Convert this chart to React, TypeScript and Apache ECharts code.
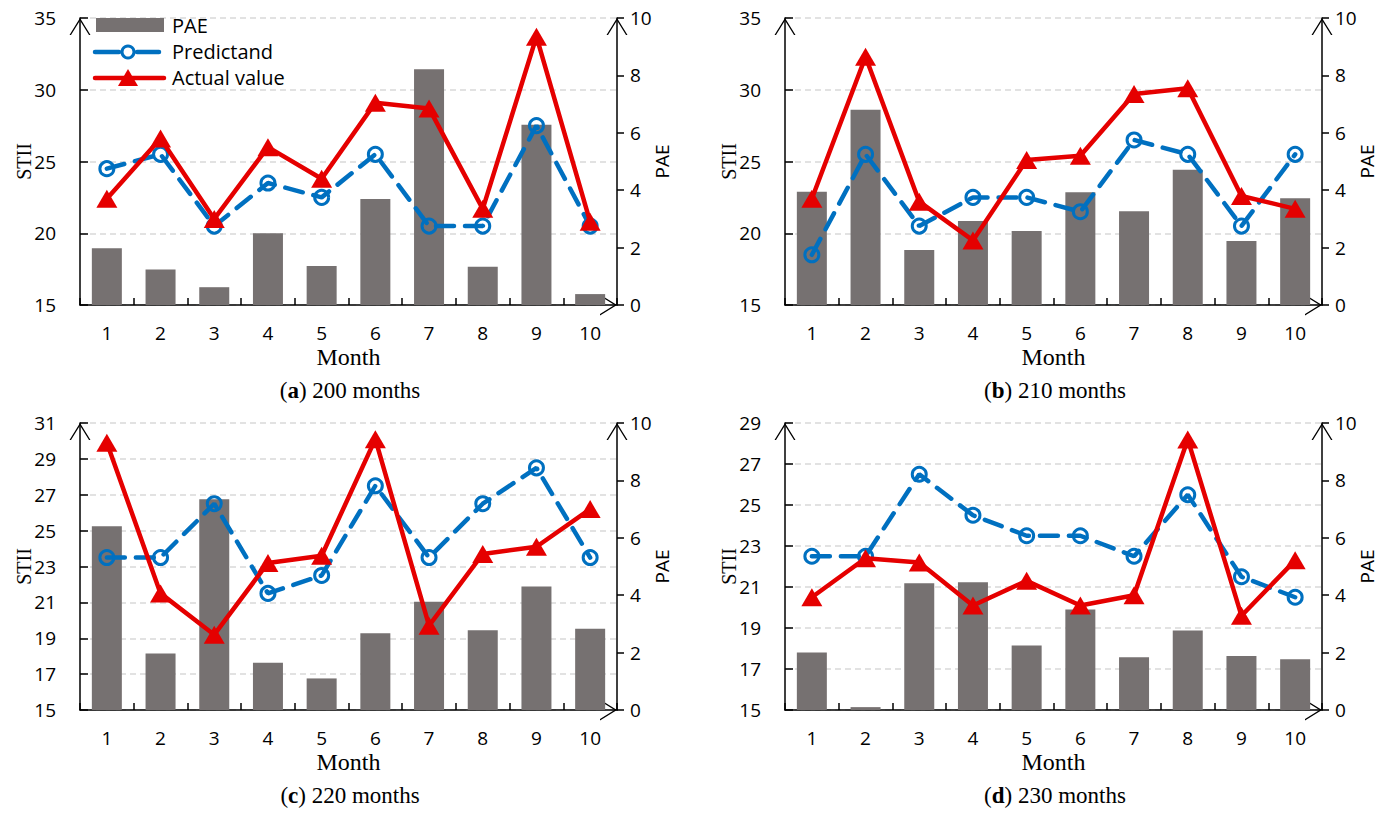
import React, { useEffect, useRef } from 'react';
import * as echarts from 'echarts';

// ---------- data ----------
const months = ['1', '2', '3', '4', '5', '6', '7', '8', '9', '10'];

const paeA = [1.98, 1.24, 0.62, 2.5, 1.36, 3.69, 8.21, 1.33, 6.28, 0.38];
const predA = [24.5, 25.5, 20.5, 23.5, 22.5, 25.5, 20.5, 20.5, 27.5, 20.5];
const actA = [22.4, 26.6, 21.0, 26.0, 23.8, 29.1, 28.7, 21.7, 33.7, 20.8];

const paeB = [3.95, 6.8, 1.92, 2.93, 2.58, 3.93, 3.27, 4.71, 2.23, 3.72];
const predB = [18.5, 25.5, 20.5, 22.5, 22.5, 21.5, 26.5, 25.5, 20.5, 25.5];
const actB = [22.4, 32.3, 22.2, 19.5, 25.1, 25.4, 29.7, 30.1, 22.6, 21.7];

const paeC = [6.4, 1.97, 7.34, 1.65, 1.1, 2.67, 3.77, 2.78, 4.3, 2.83];
const predC = [23.5, 23.5, 26.5, 21.5, 22.5, 27.5, 23.5, 26.5, 28.5, 23.5];
const actC = [29.9, 21.5, 19.2, 23.2, 23.6, 30.1, 19.7, 23.7, 24.1, 26.2];

const paeD = [2.0, 0.1, 4.42, 4.45, 2.25, 3.5, 1.84, 2.77, 1.88, 1.77];
const predD = [22.5, 22.5, 26.5, 24.5, 23.5, 23.5, 22.5, 25.5, 21.5, 20.5];
const actD = [20.5, 22.4, 22.2, 20.1, 21.3, 20.1, 20.6, 28.2, 19.6, 22.3];

// axis ranges (min, max, step)
const stiiRanges = [
  [15, 35, 5],
  [15, 35, 5],
  [15, 31, 2],
  [15, 29, 2],
];
const paeRange = [0, 10, 2];

const captionLetters = ['a', 'b', 'c', 'd'];
const captionTexts = ['200 months', '210 months', '220 months', '230 months'];
const seriesNames = ['PAE', 'Predictand', 'Actual value'];

// ---------- styles / layout ----------
const BAR = '#767171';
const BLUE = '#0070C0';
const RED = '#E50000';
const SANS = 'Open Sans';
const SERIF = 'Liberation Serif';
const ARROW = 'path://M0,17 L10.5,0 L21,17 L19.5,17 L10.5,2.5 L1.5,17 Z';

const layout = [
  { left: 80, top: 18, cx: 350, cy: 390 },
  { left: 785, top: 18, cx: 1055, cy: 390 },
  { left: 80, top: 423, cx: 350, cy: 795 },
  { left: 785, top: 423, cx: 1055, cy: 795 },
];
const GW = 537;
const GH = 287;

const dataSets = [
  [paeA, predA, actA],
  [paeB, predB, actB],
  [paeC, predC, actC],
  [paeD, predD, actD],
];

function buildOption() {
  const grid: any[] = [];
  const xAxis: any[] = [];
  const yAxis: any[] = [];
  const series: any[] = [];
  const graphic: any[] = [];
  const axisLineBase = { color: '#000', width: 1.5 };
  const arrowLine = {
    show: true,
    onZero: false,
    lineStyle: axisLineBase,
    symbol: ['none', ARROW],
    symbolSize: [21, 17],
    symbolOffset: [0, -8.5],
  };

  dataSets.forEach((ds, i) => {
    const L = layout[i];
    grid.push({ left: L.left, top: L.top, width: GW, height: GH, containLabel: false });
    xAxis.push({
      type: 'category',
      gridIndex: i,
      data: months,
      boundaryGap: true,
      axisLine: arrowLine,
      axisTick: { show: true, inside: true, length: 7, lineStyle: axisLineBase },
      axisLabel: { margin: 18, fontSize: 19, fontFamily: SANS, color: '#000' },
      splitLine: { show: false },
      name: 'Month',
      nameLocation: 'middle',
      nameGap: 40,
      nameMoveOverlap: false,
      nameTextStyle: { fontFamily: SERIF, fontSize: 24, color: '#000' },
    });
    const r = stiiRanges[i];
    yAxis.push({
      type: 'value',
      gridIndex: i,
      position: 'left',
      min: r[0],
      max: r[1],
      interval: r[2],
      axisLine: arrowLine,
      axisTick: { show: true, inside: true, length: 8, lineStyle: axisLineBase },
      axisLabel: { margin: 24, fontSize: 19, fontFamily: SANS, color: '#000' },
      splitLine: { show: true, lineStyle: { color: '#D9D9D9', width: 1.5, type: [6, 4] } },
      name: 'STII',
      nameLocation: 'middle',
      nameGap: 46,
      nameRotate: 90,
      nameMoveOverlap: false,
      nameTextStyle: { fontFamily: SERIF, fontSize: 20, color: '#000' },
    });
    yAxis.push({
      type: 'value',
      gridIndex: i,
      position: 'right',
      min: paeRange[0],
      max: paeRange[1],
      interval: paeRange[2],
      axisLine: arrowLine,
      axisTick: { show: true, inside: false, length: 7, lineStyle: axisLineBase },
      axisLabel: { margin: 13, fontSize: 19, fontFamily: SANS, color: '#000' },
      splitLine: { show: false },
      name: 'PAE',
      nameLocation: 'middle',
      nameGap: 35,
      nameRotate: 90,
      nameMoveOverlap: false,
      nameTextStyle: { fontFamily: SANS, fontSize: 19, color: '#000' },
    });

    series.push({
      name: seriesNames[0],
      type: 'bar',
      xAxisIndex: i,
      yAxisIndex: i * 2 + 1,
      data: ds[0],
      barWidth: 30,
      itemStyle: { color: BAR },
      z: 2,
    });
    series.push({
      name: seriesNames[1],
      type: 'line',
      xAxisIndex: i,
      yAxisIndex: i * 2,
      data: ds[1],
      symbol: 'circle',
      symbolSize: 14,
      itemStyle: { color: 'rgba(255,255,255,0)', borderColor: BLUE, borderWidth: 3 },
      lineStyle: { color: BLUE, width: 4.5, type: [18, 11], cap: 'round' },
      z: 3,
    });
    series.push({
      name: seriesNames[2],
      type: 'line',
      xAxisIndex: i,
      yAxisIndex: i * 2,
      data: ds[2],
      symbol: 'triangle',
      symbolSize: [21, 18],
      itemStyle: { color: RED },
      lineStyle: { color: RED, width: 4.5 },
      z: 4,
    });

    graphic.push({
      type: 'text',
      x: L.cx,
      y: L.cy,
      style: {
        text: '({b|' + captionLetters[i] + '}) ' + captionTexts[i],
        fontFamily: SERIF,
        fontSize: 23,
        fill: '#000',
        align: 'center',
        verticalAlign: 'middle',
        rich: { b: { fontWeight: 'bold', fontFamily: SERIF, fontSize: 23 } },
      },
    });
  });

  // legend (panel a)
  graphic.push(
    { type: 'rect', shape: { x: 96, y: 18, width: 68, height: 14 }, style: { fill: BAR }, z: 10 },
    { type: 'text', x: 172, y: 25, style: { text: seriesNames[0], fontFamily: SANS, fontSize: 20, fill: '#000', verticalAlign: 'middle' }, z: 10 },
    { type: 'line', shape: { x1: 95, y1: 52, x2: 119, y2: 52 }, style: { stroke: BLUE, lineWidth: 4.5, lineCap: 'round' }, z: 10 },
    { type: 'line', shape: { x1: 137, y1: 52, x2: 159, y2: 52 }, style: { stroke: BLUE, lineWidth: 4.5, lineCap: 'round' }, z: 10 },
    { type: 'circle', shape: { cx: 128, cy: 52, r: 6 }, style: { fill: '#fff', stroke: BLUE, lineWidth: 3 }, z: 10 },
    { type: 'text', x: 172, y: 51, style: { text: seriesNames[1], fontFamily: SANS, fontSize: 20, fill: '#000', verticalAlign: 'middle' }, z: 10 },
    { type: 'line', shape: { x1: 95, y1: 78, x2: 164, y2: 78 }, style: { stroke: RED, lineWidth: 4.5, lineCap: 'round' }, z: 10 },
    { type: 'polygon', shape: { points: [[128, 69], [118, 86], [138, 86]] }, style: { fill: RED }, z: 10 },
    { type: 'text', x: 172, y: 77, style: { text: seriesNames[2], fontFamily: SANS, fontSize: 20, fill: '#000', verticalAlign: 'middle' }, z: 10 },
  );

  return {
    animation: false,
    backgroundColor: '#fff',
    grid,
    xAxis,
    yAxis,
    series,
    graphic,
  };
}

export default function App() {
  const ref = useRef<HTMLDivElement>(null);
  useEffect(() => {
    if (!ref.current) return;
    const chart = echarts.init(ref.current, undefined, { renderer: 'svg' });
    chart.setOption(buildOption());
    return () => chart.dispose();
  }, []);
  return (
    <div
      ref={ref}
      style={{ position: 'absolute', left: 0, top: 0, width: 1381, height: 813, background: '#fff' }}
    />
  );
}
